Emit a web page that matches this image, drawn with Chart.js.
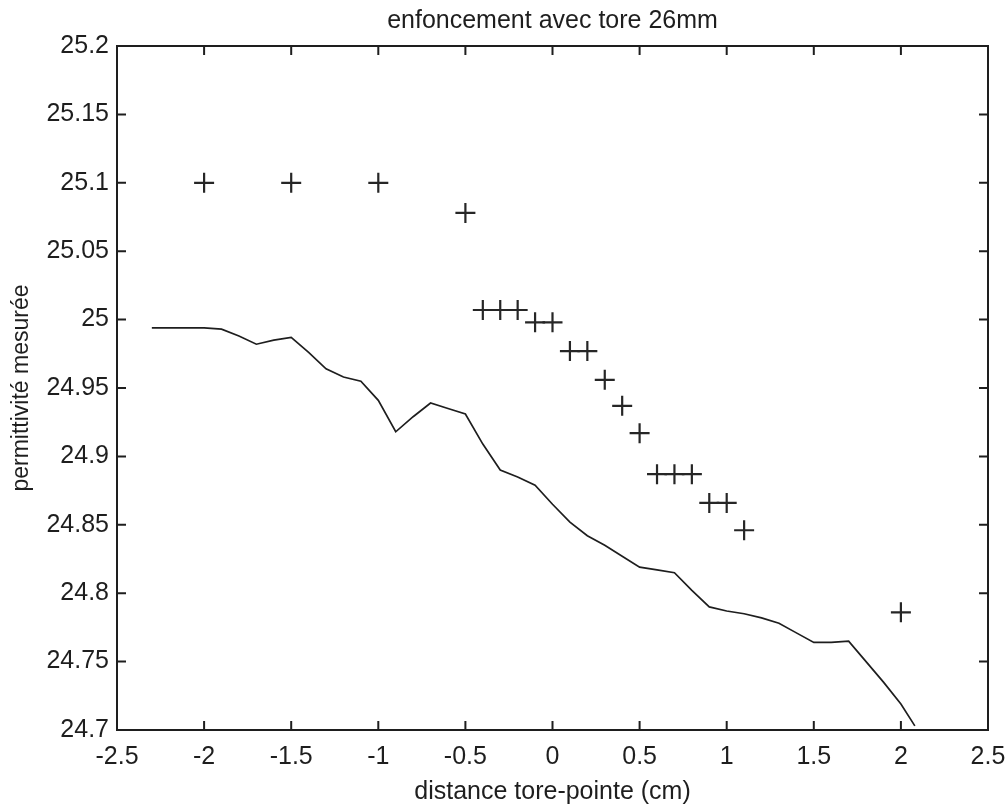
<!DOCTYPE html>
<html>
<head>
<meta charset="utf-8">
<script src="https://cdn.jsdelivr.net/npm/chart.js@4"></script>
<style>
html,body{margin:0;padding:0;background:#fff;}
#wrap{width:1006px;height:812px;}
</style>
</head>
<body>
<div id="wrap"><canvas id="c" width="1006" height="812"></canvas></div>
<script>
const chartTitle = "enfoncement avec tore 26mm";
const xAxisTitle = "distance tore-pointe (cm)";
const yAxisTitle = "permittivité mesurée";

const xTickLabels = ["-2.5","-2","-1.5","-1","-0.5","0","0.5","1","1.5","2","2.5"];
const yTickLabels = ["24.7","24.75","24.8","24.85","24.9","24.95","25","25.05","25.1","25.15","25.2"];

// measured points (crosses)
const measX = [-2, -1.5, -1, -0.5, -0.4, -0.3, -0.2, -0.1, 0, 0.1, 0.2, 0.3, 0.4, 0.5, 0.6, 0.7, 0.8, 0.9, 1.0, 1.1, 2.0];
const measY = [25.1, 25.1, 25.1, 25.078, 25.007, 25.007, 25.007, 24.998, 24.998, 24.977, 24.977, 24.956, 24.937, 24.917, 24.887, 24.887, 24.887, 24.866, 24.866, 24.846, 24.786];

// curve (solid line)
const curveX = [-2.3,-2.2,-2.1,-2.0,-1.9,-1.8,-1.7,-1.6,-1.5,-1.4,-1.3,-1.2,-1.1,-1.0,-0.9,-0.8,-0.7,-0.6,-0.5,-0.4,-0.3,-0.2,-0.1,0.0,0.1,0.2,0.3,0.4,0.5,0.6,0.7,0.8,0.9,1.0,1.1,1.2,1.3,1.4,1.5,1.6,1.7,1.8,1.9,2.0,2.08];
const curveY = [24.994,24.994,24.994,24.994,24.993,24.988,24.982,24.985,24.987,24.976,24.964,24.958,24.955,24.941,24.918,24.929,24.939,24.935,24.931,24.909,24.890,24.885,24.879,24.865,24.852,24.842,24.835,24.827,24.819,24.817,24.815,24.802,24.790,24.787,24.785,24.782,24.778,24.771,24.764,24.764,24.765,24.750,24.735,24.719,24.703];

const FONT = "'Liberation Sans', Arial, sans-serif";
const INK = "#1e1e1e";

const boxTicks = {
  id: 'boxTicks',
  afterDraw(chart) {
    const ctx = chart.ctx, a = chart.chartArea;
    const xs = chart.scales.x, ys = chart.scales.y;
    const L = 9;
    ctx.save();
    ctx.strokeStyle = INK;
    ctx.lineWidth = 2;
    ctx.strokeRect(a.left, a.top, a.right - a.left, a.bottom - a.top);
    ctx.beginPath();
    xs.ticks.forEach(t => {
      const px = xs.getPixelForValue(t.value);
      ctx.moveTo(px, a.bottom); ctx.lineTo(px, a.bottom - L);
      ctx.moveTo(px, a.top); ctx.lineTo(px, a.top + L);
    });
    ys.ticks.forEach(t => {
      const py = ys.getPixelForValue(t.value);
      ctx.moveTo(a.left, py); ctx.lineTo(a.left + L, py);
      ctx.moveTo(a.right, py); ctx.lineTo(a.right - L, py);
    });
    ctx.stroke();
    ctx.restore();
  }
};

new Chart(document.getElementById('c'), {
  type: 'scatter',
  data: {
    datasets: [
      {
        label: 'mesure',
        data: measX.map((x, i) => ({x: x, y: measY[i]})),
        showLine: false,
        pointStyle: 'cross',
        pointRadius: 10,
        pointBorderWidth: 2.2,
        borderColor: '#262626',
        backgroundColor: '#262626'
      },
      {
        label: 'courbe',
        data: curveX.map((x, i) => ({x: x, y: curveY[i]})),
        showLine: true,
        pointRadius: 0,
        borderWidth: 1.7,
        borderColor: INK,
        tension: 0
      }
    ]
  },
  options: {
    responsive: false,
    animation: false,
    devicePixelRatio: 1,
    layout: { padding: { left: 0, right: 18, top: 0, bottom: 0 } },
    plugins: {
      legend: { display: false },
      tooltip: { enabled: false },
      title: {
        display: true,
        fullSize: false,
        text: chartTitle,
        color: INK,
        font: { family: FONT, size: 25, weight: 'normal' },
        padding: { top: 6, bottom: 10 }
      }
    },
    scales: {
      x: {
        type: 'linear',
        min: -2.5, max: 2.5,
        grid: { display: false, drawTicks: false },
        border: { display: false },
        afterFit(s) { s.height = 82; s.paddingLeft = 0; s.paddingRight = 0; },
        ticks: {
          stepSize: 0.5,
          color: INK,
          padding: 12,
          font: { family: FONT, size: 25 },
          maxRotation: 0,
          autoSkip: false,
          callback: (v, i) => xTickLabels[i] !== undefined ? xTickLabels[i] : String(v)
        },
        title: {
          display: true,
          text: xAxisTitle,
          color: INK,
          font: { family: FONT, size: 25 },
          padding: { top: 0, bottom: 5 }
        }
      },
      y: {
        type: 'linear',
        min: 24.7, max: 25.2,
        grid: { display: false, drawTicks: false },
        border: { display: false },
        afterFit(s) { s.width = 117; s.paddingTop = 0; s.paddingBottom = 0; },
        ticks: {
          stepSize: 0.05,
          color: INK,
          padding: 8,
          font: { family: FONT, size: 25 },
          autoSkip: false,
          callback: (v, i) => yTickLabels[i] !== undefined ? yTickLabels[i] : String(v)
        },
        title: {
          display: true,
          text: yAxisTitle,
          color: INK,
          font: { family: FONT, size: 23 },
          padding: { top: 8, bottom: 0 }
        }
      }
    }
  },
  plugins: [boxTicks]
});
</script>
</body>
</html>
